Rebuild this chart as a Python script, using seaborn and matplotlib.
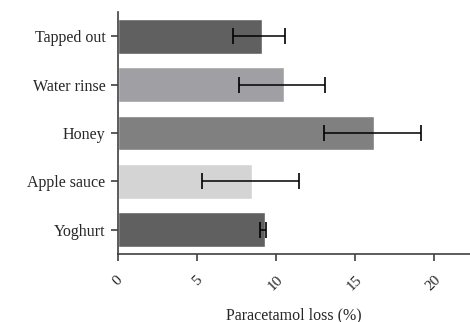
import matplotlib
matplotlib.use("Agg")
import matplotlib.pyplot as plt
import seaborn as sns
import pandas as pd
import numpy as np

categories = ["Tapped out", "Water rinse", "Honey", "Apple sauce", "Yoghurt"]
mean_loss = [9.1, 10.5, 16.25, 8.5, 9.3]
err_low = [1.8, 2.85, 3.2, 3.15, 0.3]
err_high = [1.5, 2.6, 2.95, 2.95, 0.1]
bar_colors = ["#606060", "#a0a0a4", "#808080", "#d4d4d4", "#606060"]
x_ticks = [0, 5, 10, 15, 20]

sns.set_style("white")
plt.rcParams["font.family"] = ["Liberation Serif", "DejaVu Serif"]

df = pd.DataFrame({"cat": categories, "loss": mean_loss})

fig = plt.figure(figsize=(4.7, 3.22), dpi=100)
ax = fig.add_axes([0.251, 0.211, 0.749, 0.752])

sns.barplot(data=df, x="loss", y="cat", hue="cat", palette=bar_colors,
            orient="h", width=0.72, legend=False, ax=ax, errorbar=None,
            saturation=1)

ypos = np.arange(len(categories))
ax.errorbar(mean_loss, ypos, xerr=[err_low, err_high], fmt="none",
            ecolor="black", elinewidth=1.1, capsize=5.8, capthick=1.2)

ax.set_xlim(0, 22.3)
ax.set_ylim(4.5, -0.5)
ax.set_xticks(x_ticks)
ax.set_xticklabels([str(t) for t in x_ticks], rotation=45, ha="center",
                   fontsize=11)
ax.set_yticks(ypos)
ax.set_yticklabels(categories, fontsize=11.5)
ax.set_ylabel("")
ax.set_xlabel("Paracetamol loss (%)", fontsize=11.5, labelpad=10)

for s in ["top", "right"]:
    ax.spines[s].set_visible(False)
for s in ["left", "bottom"]:
    ax.spines[s].set_color("#404040")
    ax.spines[s].set_linewidth(1.2)
ax.tick_params(axis="both", direction="out", length=5, width=1.2,
               color="#404040", left=True, bottom=True)
ax.tick_params(axis="y", pad=4)
ax.tick_params(axis="x", pad=9)

fig.savefig("out.png", dpi=100)
